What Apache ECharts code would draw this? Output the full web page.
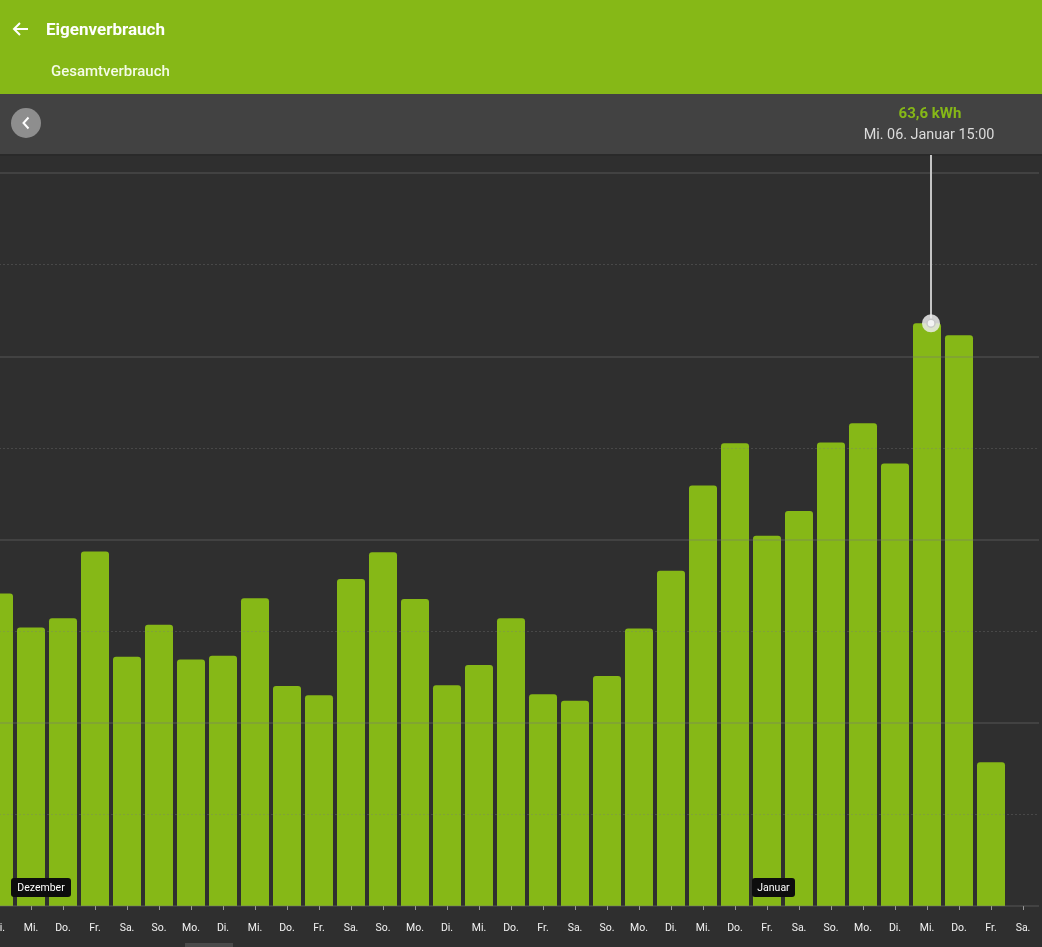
<!DOCTYPE html>
<html><head><meta charset="utf-8">
<script src="https://cdn.jsdelivr.net/npm/echarts@6/dist/echarts.min.js"></script>
<style>html,body{margin:0;padding:0;background:#2f2f2f;overflow:hidden;width:1042px;height:947px;position:relative}#c{position:absolute;left:-17px;top:0;width:1059px;height:947px}</style>
</head><body><div id="c"></div>
<script>
// Days shown (08.12.2020 – 09.01.2021)
const dayLabels = ['Di.','Mi.','Do.','Fr.','Sa.','So.','Mo.','Di.','Mi.','Do.','Fr.','Sa.','So.','Mo.','Di.','Mi.','Do.','Fr.','Sa.','So.','Mo.','Di.','Mi.','Do.','Fr.','Sa.','So.','Mo.','Di.','Mi.','Do.','Fr.','Sa.'];
const dates = ['08.12.','09.12.','10.12.','11.12.','12.12.','13.12.','14.12.','15.12.','16.12.','17.12.','18.12.','19.12.','20.12.','21.12.','22.12.','23.12.','24.12.','25.12.','26.12.','27.12.','28.12.','29.12.','30.12.','31.12.','01.01.','02.01.','03.01.','04.01.','05.01.','06.01.','07.01.','08.01.','09.01.'];
// Daily consumption in kWh
const values = [34.1,30.4,31.4,38.7,27.2,30.7,26.9,27.3,33.6,24.0,23.0,35.7,38.6,33.5,24.1,26.3,31.4,23.1,22.4,25.1,30.3,36.6,45.9,50.5,40.4,43.1,50.6,52.7,48.3,63.6,62.3,15.7,null];
const yTicks = [0,10,20,30,40,50,60,70,80];
const highlightIndex = 29;
const highlightHour = 15;
const highlightValueText = '63,6 kWh';
const highlightDateText = 'Mi. 06. Januar 15:00';
const monthMarkers = [{name:'Dezember', index:0, pinned:true},{name:'Januar', index:24, pinned:false}];

const GREEN = '#86b817';
const OX = 17; // the canvas starts 17px left of the visible page
const chart = echarts.init(document.getElementById('c'), null, {renderer:'canvas'});
chart.setOption({
  animation:false,
  backgroundColor:'#2f2f2f',
  grid:{left:0, right:3, top:173, bottom:41},
  xAxis:{
    type:'category', data:dates, offset:8,
    axisLine:{show:false},
    axisTick:{show:true, alignWithLabel:true, length:4, lineStyle:{color:'#9a9a9a', width:1}},
    axisLabel:{interval:0, margin:9, color:'#f2f2f2', fontSize:10.5, fontFamily:'Roboto',
      formatter:(v, i)=>dayLabels[i]},
    splitLine:{show:false}
  },
  yAxis:{
    type:'value', min:yTicks[0], max:yTicks[yTicks.length-1], interval:20, z:3,
    axisLine:{show:false}, axisTick:{show:false}, axisLabel:{show:false},
    splitLine:{show:true, lineStyle:{color:'rgba(120,120,120,0.28)', width:2}},
    minorTick:{show:false, splitNumber:2},
    minorSplitLine:{show:true, lineStyle:{color:'rgba(120,120,120,0.35)', width:1, type:[2,2]}}
  },
  series:[{
    type:'bar', data:values, barWidth:28,
    itemStyle:{color:GREEN, borderRadius:[3,3,0,0]}
  }]
});

const p0 = chart.convertToPixel({gridIndex:0}, [0,0]);
const p1 = chart.convertToPixel({gridIndex:0}, [1,0]);
const slot = p1[0]-p0[0];
const hp = chart.convertToPixel({gridIndex:0}, [highlightIndex, values[highlightIndex]]);
const lineX = hp[0] - slot/2 + slot*highlightHour/24;
const g = [];
// header
g.push({type:'rect', shape:{x:0,y:0,width:1059,height:94}, style:{fill:GREEN}});
g.push({type:'rect', shape:{x:0,y:94,width:1059,height:60}, style:{fill:'#424242'}});
g.push({type:'rect', shape:{x:0,y:154,width:1059,height:2}, style:{fill:'#2a2a2a'}});
g.push({type:'polyline', shape:{points:[[OX+14,29],[OX+28,29]]}, style:{stroke:'#fff', lineWidth:2}});
g.push({type:'polyline', shape:{points:[[OX+20,23],[OX+14,29],[OX+20,35]]}, style:{stroke:'#fff', lineWidth:2, fill:null}});
g.push({type:'text', x:OX+46, y:31, style:{text:'Eigenverbrauch', fill:'#fff', font:'bold 17px Roboto', verticalAlign:'middle'}});
g.push({type:'text', x:OX+51, y:72, style:{text:'Gesamtverbrauch', fill:'#f4fbe6', font:'500 15px Roboto', verticalAlign:'middle'}});
g.push({type:'circle', shape:{cx:OX+26,cy:123,r:15}, style:{fill:'#8e8e8e'}});
g.push({type:'polyline', shape:{points:[[OX+28.5,117.5],[OX+23.5,123],[OX+28.5,128.5]]}, style:{stroke:'#fff', lineWidth:2, fill:null}});
// tooltip
g.push({type:'text', x:lineX-1, y:114, style:{text:highlightValueText, fill:GREEN, font:'bold 15px Roboto', align:'center', verticalAlign:'middle'}});
g.push({type:'text', x:lineX-2, y:135.5, style:{text:highlightDateText, fill:'#dcdcdc', font:'14.4px Roboto', align:'center', verticalAlign:'middle'}});
g.push({type:'line', z:10, shape:{x1:lineX,y1:155,x2:lineX,y2:hp[1]}, style:{stroke:'#c4c4c4', lineWidth:2}});
g.push({type:'circle', z:11, shape:{cx:lineX,cy:hp[1],r:9}, style:{fill:'rgba(235,235,235,0.85)'}});
g.push({type:'circle', z:12, shape:{cx:lineX,cy:hp[1],r:4}, style:{fill:'#f4f4f4', stroke:'#c8c8c8', lineWidth:1.5}});
// month markers
monthMarkers.forEach(m=>{
  const px = chart.convertToPixel({gridIndex:0}, [m.index,0]);
  const x0 = m.pinned ? OX+11 : px[0]-15;
  const w = m.name.length*8.5-8;
  g.push({type:'rect', z:10, shape:{x:x0,y:878,width:w,height:19,r:3}, style:{fill:'#0d0d0d'}});
  g.push({type:'text', z:11, x:x0+w/2, y:888, style:{text:m.name, fill:'#fff', font:'10.5px Roboto', align:'center', verticalAlign:'middle'}});
});
// scroll indicator
g.push({type:'rect', shape:{x:OX+185,y:943,width:48,height:4}, style:{fill:'#4a4a4a'}});
chart.setOption({graphic:g});
</script>
</body></html>
